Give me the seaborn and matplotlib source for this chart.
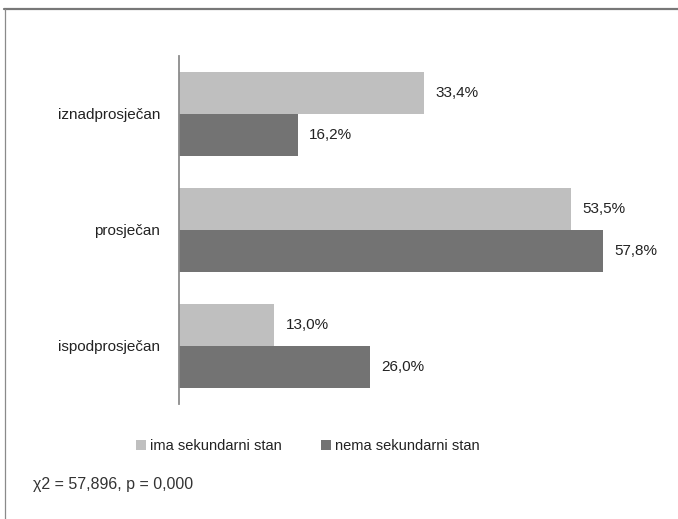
import matplotlib
matplotlib.use("Agg")
import matplotlib.pyplot as plt
from matplotlib.lines import Line2D
from matplotlib.patches import Patch
import seaborn as sns
import pandas as pd

categories = ["iznadprosječan", "prosječan", "ispodprosječan"]
series_names = ["ima sekundarni stan", "nema sekundarni stan"]
ima_values = [33.4, 53.5, 13.0]
nema_values = [16.2, 57.8, 26.0]
stat_note = "χ2 = 57,896, p = 0,000"

colors = ["#bfbfbf", "#737373"]

df = pd.DataFrame({
    "kategorija": categories * 2,
    "skupina": [series_names[0]] * 3 + [series_names[1]] * 3,
    "postotak": ima_values + nema_values,
})

sns.set_style("white")
plt.rcParams["font.family"] = ["Liberation Sans", "DejaVu Sans"]

fig = plt.figure(figsize=(6.78, 5.19), dpi=100)
ax = fig.add_axes([179 / 678, 1 - 404 / 519, (648.5 - 179) / 678, (404 - 56) / 519])

sns.barplot(data=df, x="postotak", y="kategorija", hue="skupina",
            order=categories, hue_order=series_names, palette=colors,
            orient="h", width=0.724, gap=0, linewidth=0, saturation=1,
            errorbar=None, legend=False, ax=ax)

ax.set_xlim(0, 64)
ax.set_ylim(2.5, -0.5)
ax.set_xlabel("")
ax.set_ylabel("")
ax.set_xticks([])
for side in ["top", "right", "bottom"]:
    ax.spines[side].set_visible(False)
ax.spines["left"].set_color("#8c8c8c")
ax.spines["left"].set_linewidth(1.3)
ax.tick_params(axis="y", length=0, pad=13.5, labelsize=11, labelcolor="#222222")

for container, vals in zip(ax.containers, [ima_values, nema_values]):
    ax.bar_label(container, labels=[f"{v:.1f}%".replace(".", ",") for v in vals],
                 padding=8, fontsize=11, color="#222222", clip_on=False)

handles = [Patch(facecolor=c, edgecolor="none") for c in colors]
fig.legend(handles, series_names, loc="center", bbox_to_anchor=(308 / 678, 1 - 446 / 519),
           ncol=2, frameon=False, fontsize=10.5, handlelength=0.7, handleheight=0.7,
           handletextpad=0.25, columnspacing=2.7, labelcolor="#222222")

fig.text(33 / 678, 1 - 485 / 519, stat_note, fontsize=11.5, color="#333333",
         va="center", ha="left")

# outer frame: top and left edges only
fig.add_artist(Line2D([4 / 678, 1], [1 - 8.5 / 519, 1 - 8.5 / 519], color="#787878", linewidth=1.6))
fig.add_artist(Line2D([4.5 / 678, 4.5 / 678], [0, 1 - 8.5 / 519], color="#8a8a8a", linewidth=0.9))

fig.savefig("out.png", dpi=100)
